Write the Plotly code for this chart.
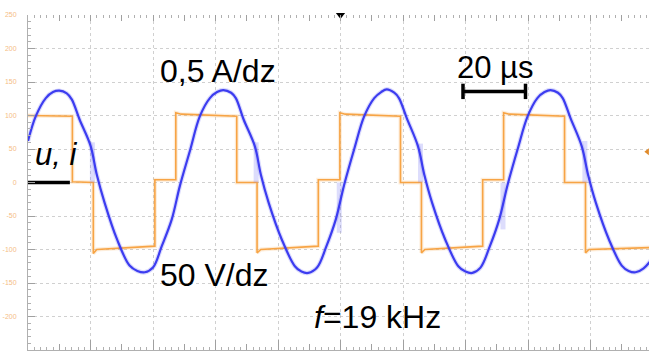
import plotly.graph_objects as go

# ---- data (time in microseconds, values in screen units: 50 V/dz, 0.5 A/dz) ----
u_t = [0, 14.2, 14.2, 20.9, 20.9, 22.0, 40.6, 40.6, 47.3, 47.3, 49.0, 66.8, 66.8, 73.3, 73.3, 74.5,
       92.9, 92.9, 99.8, 99.8, 101.5, 119.2, 119.2, 125.9, 125.9, 127.0, 145.5, 145.5, 152.2, 152.2,
       154.0, 171.7, 171.7, 178.4, 178.4, 179.5, 200]
u_v = [100, 99, 1, 0, -106, -100, -95, 4, 4, 104, 102, 99, 0, 0, -105, -100,
       -95, 4, 4, 104, 102, 99, 0, 0, -105, -100, -95, 4, 4, 104,
       102, 99, 0, 0, -105, -100, -97]

i_t = [0, 2.5, 5.7, 8.0, 10.0, 12.4, 14.0, 16.5, 20.0, 22.0, 24.5, 28.5, 32.5, 35.0, 37.4, 40.0,
       42.8, 46.0, 48.6, 51.8, 55.0, 58.2, 60.5, 62.5, 65.0, 66.5, 69.0, 72.6, 74.5, 77.0, 81.2,
       85.4, 87.5, 89.7, 92.5, 95.5, 98.5, 101.2, 104.4, 107.6, 110.8, 113.0, 114.8, 117.2, 118.7,
       121.2, 124.8, 126.8, 129.3, 133.5, 137.7, 140.0, 142.2, 144.8, 147.8, 150.8, 153.5, 156.7,
       159.9, 163.0, 165.3, 167.2, 169.6, 171.1, 173.6, 177.2, 179.2, 181.7, 185.9, 190.0, 192.2,
       194.4, 197.0, 200.0]
i_v = [62, 99, 126, 135, 137, 133, 124, 94, 55, 12, -30, -85, -124, -132, -134, -127,
       -95, -55, -5, 47, 99, 126, 135, 138, 134, 126, 94, 54, 12, -30, -85,
       -125, -133, -135, -127, -95, -55, -3, 50, 99, 126, 135, 139, 134, 126,
       96, 54, 12, -30, -85, -125, -133, -135, -127, -95, -55, -3, 50,
       99, 126, 135, 138, 134, 126, 96, 54, 12, -30, -85, -124, -132,
       -134, -128, -112]

# shaded noise bands on the current trace (t, v_top, v_bottom)
band_t = [20.6, 73.0, 125.6, 178.2, 99.6, 152.0]
band_top = [60, 60, 58, 62, 0, 0]
band_bot = [0, 0, 0, 0, -75, -70]

scale_t = [139.2, 159.2]
scale_v = [136, 136]
ground_t = [0, 13.4]
ground_v = [0, 0]

yticks = [-250, -200, -150, -100, -50, 0, 50, 100, 150, 200, 250]
ytext = ["-250", "-200", "-150", "-100", "-50", "0", "50", "100", "150", "200", "250"]

ORANGE = "#f7a445"
BLUE = "#3c3cf0"
FONT = "Liberation Sans, Arial, sans-serif"

fig = go.Figure()

# voltage (orange) halo + line
fig.add_trace(go.Scatter(x=u_t, y=u_v, mode="lines", line=dict(color="rgba(247,164,69,0.2)", width=4),
                         hoverinfo="skip", showlegend=False))
fig.add_trace(go.Scatter(x=u_t, y=u_v, mode="lines", line=dict(color=ORANGE, width=1.6),
                         showlegend=False))

# noise bands
for t, a, b in zip(band_t, band_top, band_bot):
    fig.add_trace(go.Scatter(x=[t, t], y=[a, b], mode="lines",
                             line=dict(color="rgba(120,120,245,0.25)", width=5),
                             hoverinfo="skip", showlegend=False))

# current (blue)
fig.add_trace(go.Scatter(x=i_t, y=i_v, mode="lines", line=dict(color="rgba(60,60,240,0.18)", width=4.5),
                         line_shape="spline", hoverinfo="skip", showlegend=False))
fig.add_trace(go.Scatter(x=i_t, y=i_v, mode="lines", line=dict(color=BLUE, width=2.2),
                         line_shape="spline", showlegend=False))

# scale bar 20 us
fig.add_trace(go.Scatter(x=scale_t, y=scale_v, mode="lines+markers",
                         line=dict(color="black", width=3.5),
                         marker=dict(symbol="line-ns", size=11, line=dict(color="black", width=3.5)),
                         showlegend=False))
# ground marker
fig.add_trace(go.Scatter(x=ground_t, y=ground_v, mode="lines", line=dict(color="black", width=3.5),
                         showlegend=False))
# trigger markers
fig.add_trace(go.Scatter(x=[100], y=[250], mode="markers", cliponaxis=False,
                         marker=dict(symbol="triangle-down", size=8, color="black"), showlegend=False))
fig.add_trace(go.Scatter(x=[198.2], y=[46], mode="markers", cliponaxis=False,
                         marker=dict(symbol="triangle-left", size=6, color="#e08a2a"), showlegend=False))

ann = [
    dict(x=60.8, y=167, text="0,5 A/dz", size=32),
    dict(x=59.7, y=-138, text="50 V/dz", size=32),
    dict(x=149.4, y=172, text="20 µs", size=31),
    dict(x=111.8, y=-201, text="<i>f</i>=19 kHz", size=32),
    dict(x=9.0, y=42, text="<i>u, i</i>", size=31),
]
for a in ann:
    fig.add_annotation(x=a["x"], y=a["y"], text=a["text"], showarrow=False,
                       font=dict(family=FONT, size=a["size"], color="black"),
                       xanchor="center", yanchor="middle")

XR = [0, 198.72]
grid = "rgba(170,170,170,0.55)"
fig.update_layout(
    width=649, height=353,
    margin=dict(l=28, r=0, t=15, b=3, autoexpand=False),
    paper_bgcolor="white", plot_bgcolor="white",
    xaxis=dict(range=XR, showgrid=False, zeroline=False, showline=True, linecolor="#b0b0b0", linewidth=1,
               ticks="inside", dtick=10, tick0=0, ticklen=6, tickcolor="#a0a0a0", showticklabels=False,
               automargin=False,
               minor=dict(dtick=2, ticks="inside", ticklen=3, tickcolor="#b0b0b0")),
    xaxis2=dict(range=XR, overlaying="x", side="top", showgrid=False, zeroline=False, showline=False,
                ticks="inside", dtick=10, tick0=0, ticklen=6, tickcolor="#a0a0a0", showticklabels=False,
                automargin=False,
                minor=dict(dtick=2, ticks="inside", ticklen=3, tickcolor="#b0b0b0")),
    xaxis3=dict(range=XR, overlaying="x", side="bottom", showgrid=True, gridcolor=grid, griddash="dot",
                gridwidth=1, zeroline=False, showline=False, ticks="inside", dtick=20, tick0=0,
                ticklen=10, tickcolor="#a0a0a0", showticklabels=False, automargin=False),
    yaxis=dict(range=[-250, 250], showgrid=True, gridcolor=grid, griddash="dot", gridwidth=1,
               zeroline=False, showline=True, linecolor="#b0b0b0", linewidth=1, automargin=False,
               tickvals=yticks, ticktext=ytext, ticks="inside", ticklen=7, tickcolor="#a0a0a0",
               tickfont=dict(family=FONT, size=7, color="#f5bd85"), ticklabelstandoff=9,
               minor=dict(dtick=10, ticks="inside", ticklen=3, tickcolor="#b0b0b0")),
)
# invisible traces to activate the overlay axes
fig.add_trace(go.Scatter(x=[None], y=[None], xaxis="x2", showlegend=False))
fig.add_trace(go.Scatter(x=[None], y=[None], xaxis="x3", showlegend=False))

fig.write_html("out.html", config={"displayModeBar": False},
               post_script="document.body.style.margin='0';document.body.style.overflow='hidden';")
